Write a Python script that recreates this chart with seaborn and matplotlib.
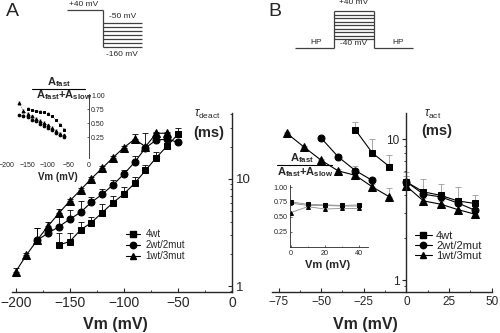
import numpy as np
import matplotlib
matplotlib.use('Agg')
import matplotlib.pyplot as plt
import seaborn as sns
from matplotlib.lines import Line2D
from matplotlib.ticker import FixedLocator, NullFormatter, FuncFormatter, LogLocator

sns.set_style('ticks')
plt.rcParams['font.family'] = ['Liberation Sans', 'DejaVu Sans']
plt.rcParams['mathtext.fontset'] = 'custom'
plt.rcParams['mathtext.rm'] = 'Liberation Sans'
plt.rcParams['mathtext.bf'] = 'Liberation Sans:bold'
plt.rcParams['mathtext.it'] = 'Liberation Sans:italic'

groups = ['4wt', '2wt/2mut', '1wt/3mut']
markers = ['s', 'o', '^']

# ---------------- Panel A (deactivation) ----------------
a_vm_4wt = [-160, -150, -140, -130, -120, -110, -100, -90, -80, -70, -60, -50]
a_tau_4wt = [2.42, 2.60, 3.34, 3.91, 4.85, 6.0, 7.24, 9.1, 12.0, 15.8, 20.3, 26.1]
a_err_4wt = [0.7, 0.5, 0.6, 0.5, 1.0, 0.9, 1.2, 1.4, 1.5, 1.9, 1.5, 3.6]

a_vm_2wt = [-180, -170, -160, -150, -140, -130, -120, -110, -100, -90, -80, -70, -60, -50]
a_tau_2wt = [2.69, 3.11, 3.59, 4.20, 4.88, 6.05, 7.19, 8.79, 11.1, 14.3, 19.5, 23.1, 23.5, 22.0]
a_err_2wt = [0.8, 0.3, 0.8, 0.9, 1.3, 0.7, 0.8, 1.0, 1.0, 1.9, 0.5, 3.5, 0.6, 0.5]

a_vm_1wt = [-200, -190, -180, -170, -160, -150, -140, -130, -120, -110, -100, -90, -80, -70, -60]
a_tau_1wt = [1.36, 1.95, 2.69, 3.64, 4.78, 6.23, 7.89, 10.07, 12.6, 15.8, 19.6, 23.5, 20.0, 26.7, 26.7]
a_err_1wt = [0.1, 0.1, 0.8, 0.3, 0.5, 0.3, 0.3, 0.3, 0.5, 0.5, 0.8, 3.0, 7.0, 1.0, 1.0]

# inset A: fraction of fast component
ia_vm_4wt = [-150, -140, -130, -120, -110, -100, -90, -80, -70, -60]
ia_frac_4wt = [0.75, 0.73, 0.71, 0.70, 0.69, 0.66, 0.62, 0.55, 0.47, 0.38]
ia_vm_2wt = [-170, -160, -150, -140, -130, -120, -110, -100, -90, -80, -70, -60]
ia_frac_2wt = [0.64, 0.63, 0.61, 0.56, 0.53, 0.49, 0.45, 0.41, 0.37, 0.33, 0.29, 0.25]
ia_vm_1wt = [-170, -160, -150, -140, -130, -120, -110, -100, -90, -80, -70, -60]
ia_frac_1wt = [0.86, 0.72, 0.66, 0.62, 0.58, 0.54, 0.50, 0.46, 0.41, 0.36, 0.31, 0.28]

# ---------------- Panel B (activation) ----------------
b_vm_left_4wt = [-30, -20, -10]
b_tau_left_4wt = [11.7, 8.0, 6.4]
b_err_left_4wt = [1.6, 2.1, 1.3]
b_vm_left_2wt = [-50, -40, -30, -20]
b_tau_left_2wt = [10.2, 7.5, 6.0, 5.1]
b_err_left_2wt = [0.2, 0.4, 0.5, 0.2]
b_vm_left_1wt = [-70, -60, -50, -40, -30, -20, -10]
b_tau_left_1wt = [11.0, 8.8, 7.1, 5.96, 5.55, 4.59, 3.90]
b_err_left_1wt = [0.2, 0.2, 0.2, 0.2, 0.2, 0.2, 0.6]

b_vm_right = [0, 10, 20, 30, 40]
b_tau_right_4wt = [4.98, 4.23, 4.0, 3.65, 3.50]
b_err_right_4wt = [0.9, 1.0, 0.85, 0.95, 0.5]
b_tau_right_2wt = [4.98, 4.07, 3.90, 3.53, 3.14]
b_err_right_2wt = [0.5, 0.3, 0.3, 0.3, 0.2]
b_tau_right_1wt = [4.64, 3.65, 3.46, 3.17, 2.94]
b_err_right_1wt = [0.3, 0.2, 0.2, 0.2, 0.1]

ib_vm = [0, 10, 20, 30, 40]
ib_frac_4wt = [0.75, 0.71, 0.70, 0.69, 0.70]
ib_frac_2wt = [0.73, 0.69, 0.69, 0.68, 0.68]
ib_frac_1wt = [0.57, 0.67, 0.63, 0.64, 0.64]

# pulse protocol step levels (schematic)
pulse_a_steps = [22.7, 26.7, 30.7, 35.0, 39.0, 42.7, 46.7]
pulse_b_steps = [11.0, 15.0, 18.3, 21.7, 25.0, 29.0, 32.3, 35.7, 39.0]

W, H = 500, 333
fig = plt.figure(figsize=(5.0, 3.33), dpi=100)


def px_axes(x0, y0, x1, y1, **kw):
    return fig.add_axes([x0 / W, 1 - y1 / H, (x1 - x0) / W, (y1 - y0) / H], **kw)


def series(ax, x, y, marker, ms, lw=0.8, ls='-', color='k', lcolor=None):
    sns.lineplot(x=x, y=y, ax=ax, color=lcolor or color, marker=marker, markersize=ms,
                 markeredgecolor=color, markerfacecolor=color, linewidth=lw,
                 linestyle=ls, estimator=None, sort=False, legend=False)


def errs(ax, x, y, e, color='k', lw=0.6, cap=2):
    ax.errorbar(x, y, yerr=[np.zeros(len(e)), e], fmt='none', ecolor=color,
                elinewidth=lw, capsize=cap, capthick=lw, zorder=1)


logfmt = FuncFormatter(lambda v, p: f'{v:g}')

# ---- main A ----
axA = px_axes(12.4, 113.3, 232, 291.7)
axA.set_facecolor('none')
axA.set_yscale('log')
for x, y, e in [(a_vm_4wt, a_tau_4wt, a_err_4wt), (a_vm_2wt, a_tau_2wt, a_err_2wt),
                (a_vm_1wt, a_tau_1wt, a_err_1wt)]:
    errs(axA, x, y, e)
series(axA, a_vm_4wt, a_tau_4wt, 's', 4.6)
series(axA, a_vm_2wt, a_tau_2wt, 'o', 5.0)
series(axA, a_vm_1wt, a_tau_1wt, '^', 5.4)
axA.set_xlim(-203, 0)
axA.set_ylim(0.885, 41)
axA.spines['top'].set_visible(False)
axA.spines['left'].set_visible(False)
for s in ['bottom', 'right']:
    axA.spines[s].set_linewidth(1.0)
axA.yaxis.tick_right()
axA.yaxis.set_major_locator(FixedLocator([1, 10]))
axA.yaxis.set_major_formatter(logfmt)
axA.yaxis.set_minor_locator(LogLocator(subs=np.arange(2, 10)))
axA.yaxis.set_minor_formatter(NullFormatter())
axA.set_xticks([-200, -150, -100, -50, 0])
axA.xaxis.set_minor_locator(FixedLocator([-175, -125, -75, -25]))
axA.tick_params(axis='both', which='major', direction='in', length=3, width=0.8, labelsize=10, pad=3)
axA.tick_params(axis='both', which='minor', direction='in', length=1.8, width=0.6)
axA.tick_params(axis='y', labelsize=9.5, pad=3)
axA.set_xlabel('')
axA.set_ylabel('')

hA = [Line2D([], [], color='k', marker=m, markersize=4.6, lw=0.8) for m in markers]
legA = axA.legend(hA, groups, loc='upper left', bbox_to_anchor=(126 / W, 1 - 229 / H),
                  bbox_transform=fig.transFigure, frameon=False, fontsize=7,
                  handlelength=1.4, handletextpad=0.6, labelspacing=0.1,
                  borderpad=0, borderaxespad=0)

# ---- inset A ----
axIA = px_axes(5, 94, 89, 158.3)
axIA.set_facecolor('none')
for x, y in [(ia_vm_4wt, ia_frac_4wt), (ia_vm_2wt, ia_frac_2wt), (ia_vm_1wt, ia_frac_1wt)]:
    errs(axIA, x, y, [0.03] * len(x), color='0.5', lw=0.4, cap=0.8)
series(axIA, ia_vm_4wt, ia_frac_4wt, 's', 1.9, lw=0.6, ls=':', lcolor='0.4')
series(axIA, ia_vm_2wt, ia_frac_2wt, 'o', 1.9, lw=0.6, ls=':', lcolor='0.4')
series(axIA, ia_vm_1wt, ia_frac_1wt, '^', 2.1, lw=0.6, ls=':', lcolor='0.4')
axIA.set_xlim(-205, 0)
axIA.set_ylim(-0.13, 1.02)
for s in ['top', 'left', 'bottom']:
    axIA.spines[s].set_visible(False)
axIA.spines['right'].set_linewidth(0.6)
axIA.yaxis.tick_right()
axIA.set_yticks([0.25, 0.50, 0.75, 1.00])
axIA.yaxis.set_major_formatter(FuncFormatter(lambda v, p: f'{v:.2f}'))
axIA.set_xticks([-200, -150, -100, -50, 0])
axIA.tick_params(axis='both', which='major', direction='in', length=1.5, width=0.5,
                 labelsize=5, pad=1.5)
axIA.tick_params(axis='x', length=0, pad=3)
axIA.set_xlabel('')
axIA.set_ylabel('')

# ---- main B ----
axB = px_axes(271.7, 113.3, 491.7, 291.7)
axB.set_facecolor('none')
axB.set_yscale('log')
ecB = '0.6'
for x, y, e in [(b_vm_left_4wt, b_tau_left_4wt, b_err_left_4wt),
                (b_vm_left_2wt, b_tau_left_2wt, b_err_left_2wt),
                (b_vm_left_1wt, b_tau_left_1wt, b_err_left_1wt),
                (b_vm_right, b_tau_right_4wt, b_err_right_4wt),
                (b_vm_right, b_tau_right_2wt, b_err_right_2wt),
                (b_vm_right, b_tau_right_1wt, b_err_right_1wt)]:
    errs(axB, x, y, e, color=ecB)
series(axB, b_vm_left_4wt, b_tau_left_4wt, 's', 4.6)
series(axB, b_vm_left_2wt, b_tau_left_2wt, 'o', 5.0)
series(axB, b_vm_left_1wt, b_tau_left_1wt, '^', 5.4)
series(axB, b_vm_right, b_tau_right_4wt, 's', 4.6)
series(axB, b_vm_right, b_tau_right_2wt, 'o', 5.0)
series(axB, b_vm_right, b_tau_right_1wt, '^', 5.4)
axB.set_xlim(-79, 50)
axB.set_ylim(0.826, 15.3)
axB.spines['top'].set_visible(False)
axB.spines['right'].set_visible(False)
axB.spines['left'].set_position(('data', 0))
for s in ['bottom', 'left']:
    axB.spines[s].set_linewidth(1.0)
axB.yaxis.set_major_locator(FixedLocator([1, 10]))
axB.yaxis.set_major_formatter(logfmt)
axB.yaxis.set_minor_locator(LogLocator(subs=np.arange(2, 10)))
axB.yaxis.set_minor_formatter(NullFormatter())
axB.set_xticks([-75, -50, -25, 0, 25, 50])
axB.xaxis.set_minor_locator(FixedLocator([-62.5, -37.5, -12.5, 12.5, 37.5]))
axB.tick_params(axis='x', which='major', direction='in', length=3, width=0.8, labelsize=8.5, pad=3)
axB.tick_params(axis='x', which='minor', direction='in', length=1.8, width=0.6)
axB.tick_params(axis='y', which='major', direction='out', length=3, width=0.8, labelsize=8.5, pad=2)
axB.tick_params(axis='y', which='minor', direction='out', length=1.8, width=0.6)
axB.set_xlabel('')
axB.set_ylabel('')

hB = [Line2D([], [], color='k', marker=m, markersize=4.6, lw=0.8) for m in markers]
legB = axB.legend(hB, groups, loc='upper left', bbox_to_anchor=(415 / W, 1 - 231 / H),
                  bbox_transform=fig.transFigure, frameon=False, fontsize=8,
                  handlelength=1.5, handletextpad=0.4, labelspacing=0.0,
                  borderpad=0, borderaxespad=0)

# ---- inset B ----
axIB = px_axes(290, 185, 368, 247)
axIB.set_facecolor('none')
series(axIB, ib_vm, ib_frac_4wt, 's', 2.6, lw=0.6, lcolor='0.55')
series(axIB, ib_vm, ib_frac_2wt, 'o', 2.6, lw=0.6, lcolor='0.55')
series(axIB, ib_vm, ib_frac_1wt, '^', 2.8, lw=0.6, lcolor='0.55')
axIB.set_xlim(-0.4, 45.1)
axIB.set_ylim(-0.008, 1.034)
axIB.spines['top'].set_visible(False)
axIB.spines['right'].set_visible(False)
for s in ['bottom', 'left']:
    axIB.spines[s].set_linewidth(0.6)
axIB.set_yticks([0.25, 0.50, 0.75, 1.00])
axIB.yaxis.set_major_formatter(FuncFormatter(lambda v, p: f'{v:.2f}'))
axIB.set_xticks([0, 20, 40])
axIB.xaxis.set_minor_locator(FixedLocator([10, 30]))
axIB.tick_params(axis='both', which='major', direction='in', length=1.5, width=0.5,
                 labelsize=5.2, pad=1.5)
axIB.tick_params(axis='x', which='minor', direction='in', length=1, width=0.4)
axIB.tick_params(axis='x', pad=2.5)
axIB.set_xlabel('')
axIB.set_ylabel('')

# ---- overlay: labels, pulse protocols ----
ov = fig.add_axes([0, 0, 1, 1], zorder=10)
ov.set_xlim(0, W)
ov.set_ylim(H, 0)
ov.set_axis_off()

ov.text(12, 11, 'A', fontsize=14, ha='center', va='center')
ov.text(275, 11, 'B', fontsize=14, ha='center', va='center')

bold = dict(fontweight='bold', ha='center', va='center')
ov.text(115, 325, 'Vm (mV)', fontsize=11.5, **bold)
ov.text(365, 325, 'Vm (mV)', fontsize=11.5, **bold)
ov.text(58, 176.5, 'Vm (mV)', fontsize=7, **bold)
ov.text(327.5, 265, 'Vm (mV)', fontsize=8, **bold)

ov.text(207, 114, r'$\tau_{\mathrm{deact}}$', fontsize=8.5, ha='center', va='center')
ov.text(209, 133.5, '(ms)', fontsize=10.5, **bold)
ov.text(433, 114, r'$\tau_{\mathrm{act}}$', fontsize=8.5, ha='center', va='center')
ov.text(437, 131.5, '(ms)', fontsize=10.5, **bold)

num = r'$\mathbf{A}_{\mathbf{fast}}$'
den = r'$\mathbf{A}_{\mathbf{fast}}\mathbf{+A}_{\mathbf{slow}}$'
ov.text(59, 82, num, fontsize=8, ha='center', va='center')
ov.plot([31.7, 85], [88.7, 88.7], color='k', lw=0.8)
ov.text(64, 95.5, den, fontsize=8, ha='center', va='center')
ov.text(302, 158, num, fontsize=8, ha='center', va='center')
ov.plot([277, 332], [165, 165], color='k', lw=0.8)
ov.text(305, 172, den, fontsize=8, ha='center', va='center')

pk = dict(color='0.25', lw=0.9, solid_capstyle='butt')
# protocol A
ov.plot([67, 103], [10, 10], **pk)
ov.plot([103, 103], [10, pulse_a_steps[-1]], **pk)
for yv in pulse_a_steps:
    ov.plot([103, 142], [yv, yv], **pk)
ptxt = dict(fontsize=6, ha='center', va='center', color='0.15')
ov.text(84, 4, '+40 mV', **ptxt)
ov.text(123, 16, '-50 mV', **ptxt)
ov.text(122, 54, '-160 mV', **ptxt)
# protocol B
ov.plot([295, 334], [48.3, 48.3], **pk)
ov.plot([334, 334], [48.3, pulse_b_steps[0]], **pk)
for yv in pulse_b_steps:
    ov.plot([334, 374], [yv, yv], **pk)
ov.plot([374, 374], [pulse_b_steps[0], 48.3], **pk)
ov.plot([374, 413], [48.3, 48.3], **pk)
ov.text(354, 3, '+40 mV', **ptxt)
ov.text(354, 43.5, '-40 mV', **ptxt)
ov.text(316, 42, 'HP', **ptxt)
ov.text(398, 42, 'HP', **ptxt)

fig.savefig('out.png', dpi=100)
